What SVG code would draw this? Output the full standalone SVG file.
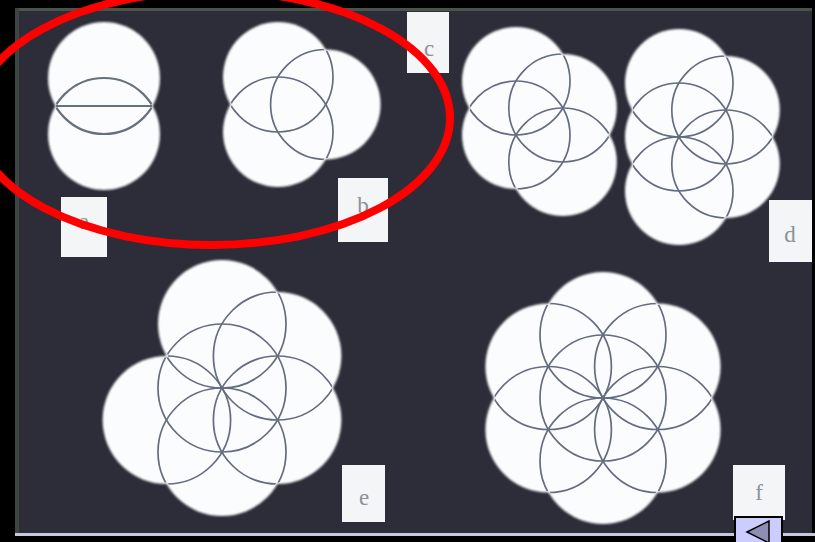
<svg xmlns="http://www.w3.org/2000/svg" width="815" height="542" viewBox="0 0 815 542">
<style>
.disk{fill:#fbfcfd}
.ring{fill:none;stroke:#646c80;stroke-width:1.7}
.lbl rect{fill:#f3f5f6}
.lbl text{font-family:"Liberation Serif",serif;font-size:23px;fill:#8b929a;text-anchor:middle}
</style>
<defs>
<filter id="soft" x="-10%" y="-10%" width="120%" height="120%"><feGaussianBlur stdDeviation="0.9"/></filter>
<clipPath id="cA"><circle cx="104" cy="134" r="54.5"/><circle cx="104" cy="78" r="54.5"/></clipPath>
<clipPath id="cB"><circle cx="278" cy="132" r="53.5"/><circle cx="278" cy="77" r="53.5"/><circle cx="325.6" cy="104.5" r="53.5"/></clipPath>
<clipPath id="cC"><circle cx="516" cy="135" r="52.5"/><circle cx="516" cy="81" r="52.5"/><circle cx="562.8" cy="108" r="52.5"/><circle cx="562.8" cy="162" r="52.5"/></clipPath>
<clipPath id="cD"><circle cx="679" cy="137" r="52.5"/><circle cx="679" cy="83" r="52.5"/><circle cx="725.8" cy="110" r="52.5"/><circle cx="725.8" cy="164" r="52.5"/><circle cx="679" cy="191" r="52.5"/></clipPath>
<clipPath id="cE"><circle cx="222" cy="388" r="62.5"/><circle cx="222" cy="324" r="62.5"/><circle cx="277.4" cy="356" r="62.5"/><circle cx="277.4" cy="420" r="62.5"/><circle cx="222" cy="452" r="62.5"/><circle cx="166.6" cy="420" r="62.5"/></clipPath>
<clipPath id="cF"><circle cx="603" cy="398" r="61.5"/><circle cx="603" cy="335" r="61.5"/><circle cx="657.6" cy="366.5" r="61.5"/><circle cx="657.6" cy="429.5" r="61.5"/><circle cx="603" cy="461" r="61.5"/><circle cx="548.4" cy="429.5" r="61.5"/><circle cx="548.4" cy="366.5" r="61.5"/></clipPath>
</defs>
<rect width="815" height="542" fill="#000"/>
<rect x="15" y="8" width="797" height="525" fill="#2c2d38"/>
<rect x="15" y="8" width="797" height="3" fill="#4a5448"/>
<rect x="15" y="8" width="4" height="525" fill="#3c4540"/>
<rect x="15" y="533" width="800" height="3" fill="#c6c8de"/>

<g id="fig-a">
<g class="disk" filter="url(#soft)"><circle cx="104" cy="134" r="56"/><circle cx="104" cy="78" r="56"/></g>
<g class="ring" clip-path="url(#cA)" style="stroke-width:2.2;stroke:#66717c"><circle cx="104" cy="134" r="56"/><circle cx="104" cy="78" r="56"/></g>
<line x1="56" y1="106" x2="152" y2="106" stroke="#66717c" stroke-width="2"/>
</g>

<g id="fig-b">
<g class="disk" filter="url(#soft)"><circle cx="278" cy="132" r="55"/><circle cx="278" cy="77" r="55"/><circle cx="325.6" cy="104.5" r="55"/></g>
<g class="ring" clip-path="url(#cB)"><circle cx="278" cy="132" r="55"/><circle cx="278" cy="77" r="55"/><circle cx="325.6" cy="104.5" r="55"/></g>
</g>

<g id="fig-c">
<g class="disk" filter="url(#soft)"><circle cx="516" cy="135" r="54"/><circle cx="516" cy="81" r="54"/><circle cx="562.8" cy="108" r="54"/><circle cx="562.8" cy="162" r="54"/></g>
<g class="ring" clip-path="url(#cC)"><circle cx="516" cy="135" r="54"/><circle cx="516" cy="81" r="54"/><circle cx="562.8" cy="108" r="54"/><circle cx="562.8" cy="162" r="54"/></g>
</g>

<g id="fig-d">
<g class="disk" filter="url(#soft)"><circle cx="679" cy="137" r="54"/><circle cx="679" cy="83" r="54"/><circle cx="725.8" cy="110" r="54"/><circle cx="725.8" cy="164" r="54"/><circle cx="679" cy="191" r="54"/></g>
<g class="ring" clip-path="url(#cD)"><circle cx="679" cy="137" r="54"/><circle cx="679" cy="83" r="54"/><circle cx="725.8" cy="110" r="54"/><circle cx="725.8" cy="164" r="54"/><circle cx="679" cy="191" r="54"/></g>
</g>

<g id="fig-e">
<g class="disk" filter="url(#soft)"><circle cx="222" cy="388" r="64"/><circle cx="222" cy="324" r="64"/><circle cx="277.4" cy="356" r="64"/><circle cx="277.4" cy="420" r="64"/><circle cx="222" cy="452" r="64"/><circle cx="166.6" cy="420" r="64"/></g>
<g class="ring" clip-path="url(#cE)"><circle cx="222" cy="388" r="64"/><circle cx="222" cy="324" r="64"/><circle cx="277.4" cy="356" r="64"/><circle cx="277.4" cy="420" r="64"/><circle cx="222" cy="452" r="64"/><circle cx="166.6" cy="420" r="64"/></g>
</g>

<g id="fig-f">
<g class="disk" filter="url(#soft)"><circle cx="603" cy="398" r="63"/><circle cx="603" cy="335" r="63"/><circle cx="657.6" cy="366.5" r="63"/><circle cx="657.6" cy="429.5" r="63"/><circle cx="603" cy="461" r="63"/><circle cx="548.4" cy="429.5" r="63"/><circle cx="548.4" cy="366.5" r="63"/></g>
<g class="ring" clip-path="url(#cF)"><circle cx="603" cy="398" r="63"/><circle cx="603" cy="335" r="63"/><circle cx="657.6" cy="366.5" r="63"/><circle cx="657.6" cy="429.5" r="63"/><circle cx="603" cy="461" r="63"/><circle cx="548.4" cy="429.5" r="63"/><circle cx="548.4" cy="366.5" r="63"/></g>
</g>

<g id="label-a" class="lbl"><rect x="61" y="197" width="46" height="60"/><text x="84" y="229">a</text></g>
<g id="label-b" class="lbl"><rect x="338" y="178" width="50" height="64"/><text x="363" y="213">b</text></g>
<g id="label-c" class="lbl"><rect x="407" y="12" width="42" height="61"/><text x="429" y="56">c</text></g>
<g id="label-d" class="lbl"><rect x="769" y="200" width="43" height="62"/><text x="790" y="242">d</text></g>
<g id="label-e" class="lbl"><rect x="342" y="465" width="43" height="57"/><text x="364" y="505">e</text></g>
<g id="label-f" class="lbl"><rect x="733" y="465" width="52" height="55"/><text x="759" y="500">f</text></g>

<ellipse id="highlight" cx="212" cy="118" rx="238" ry="127" fill="none" stroke="#ff0000" stroke-width="8"/>

<g id="nav-back">
<rect x="735" y="517" width="47" height="30" fill="#ccccff" stroke="#000" stroke-width="2"/>
<polygon points="747,532 769,521 769,543" fill="#8e8eb4" stroke="#000" stroke-width="1.5"/>
</g>
</svg>
